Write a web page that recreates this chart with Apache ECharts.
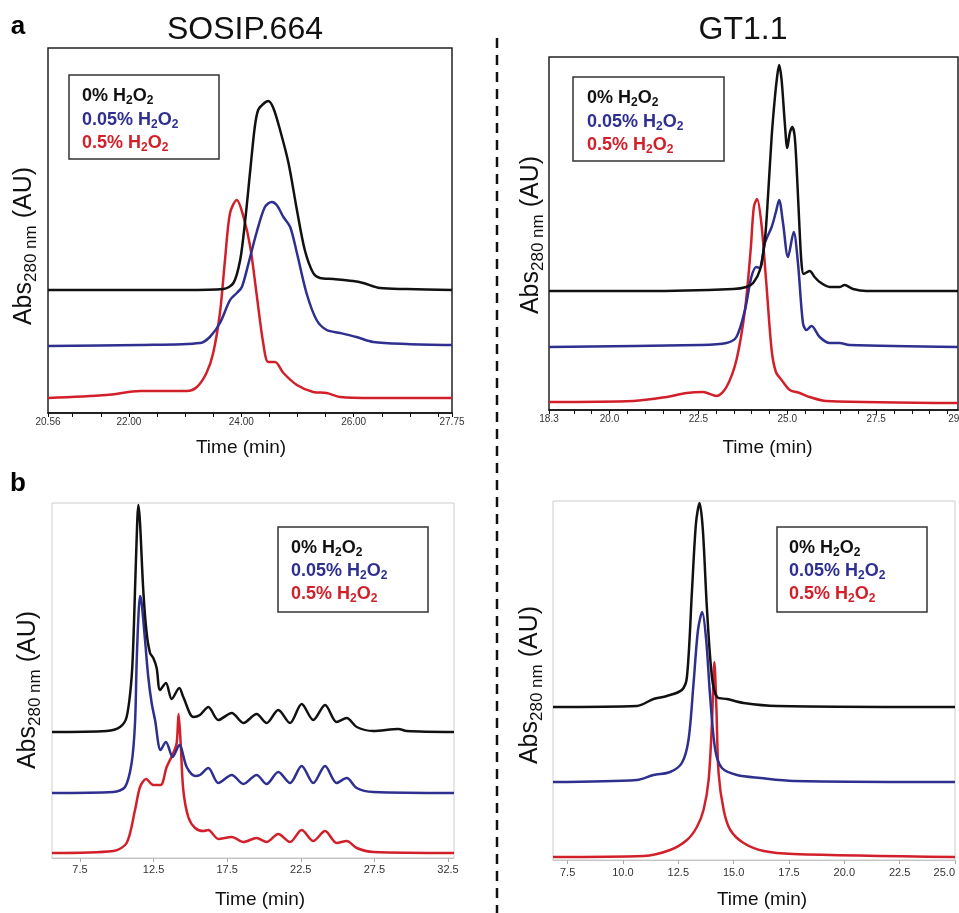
<!DOCTYPE html>
<html><head><meta charset="utf-8">
<script src="https://cdn.jsdelivr.net/npm/echarts@6/dist/echarts.min.js"></script>
<style>html,body{margin:0;padding:0;background:#fff}#c{width:959px;height:913px}</style>
</head><body><div id="c"></div>
<script>
// ---------- Panel a, SOSIP.664 (Time, min / Abs arbitrary units) ----------
const aSosip_t_0 = [20.56, 22.00, 23.00, 23.68, 23.86, 23.98, 24.07, 24.16, 24.24, 24.30, 24.39, 24.48, 24.57, 24.69, 24.84, 24.99, 25.13, 25.28, 25.40, 25.64, 25.99, 26.17, 26.47, 26.94, 27.75];
const aSosip_v_0 = [123, 123, 123, 124, 130, 153, 193, 243, 286, 303, 309, 312, 305, 283, 250, 203, 163, 140, 135, 134, 132, 130, 125, 124, 123];
const aSosip_t_005 = [20.56, 22.20, 23.27, 23.44, 23.62, 23.80, 23.92, 24.01, 24.13, 24.27, 24.42, 24.54, 24.63, 24.75, 24.87, 24.99, 25.16, 25.34, 25.52, 25.76, 26.05, 26.35, 26.94, 27.75];
const aSosip_v_005 = [67, 68, 70, 76, 90, 113, 120, 126, 150, 180, 206, 211, 208, 196, 186, 160, 120, 93, 83, 80, 76, 71, 69, 68];
const aSosip_t_05 = [20.56, 21.60, 22.20, 22.67, 23.03, 23.21, 23.38, 23.50, 23.62, 23.71, 23.80, 23.92, 24.04, 24.16, 24.27, 24.39, 24.48, 24.60, 24.75, 24.99, 25.28, 25.52, 25.76, 26.35, 27.75];
const aSosip_v_05 = [15, 18, 22, 22, 22, 26, 40, 60, 100, 153, 200, 213, 196, 166, 120, 70, 51, 51, 40, 28, 21, 20, 16, 15, 15];

// ---------- Panel a, GT1.1 ----------
const aGT_t_0 = [18.30, 21.00, 23.48, 23.85, 24.04, 24.23, 24.37, 24.46, 24.56, 24.65, 24.72, 24.77, 24.84, 24.93, 25.00, 25.07, 25.14, 25.21, 25.28, 25.35, 25.40, 25.46, 25.63, 25.77, 25.91, 26.19, 26.47, 26.61, 26.85, 27.22, 29.80];
const aGT_v_0 = [119, 119, 121, 123, 127, 140, 170, 215, 273, 312, 335, 345, 330, 287, 262, 277, 283, 273, 230, 177, 147, 136, 139, 133, 128, 123, 123, 125, 121, 119, 119];
const aGT_t_005 = [18.30, 22.54, 23.29, 23.57, 23.81, 23.99, 24.13, 24.23, 24.37, 24.56, 24.68, 24.77, 24.88, 25.02, 25.18, 25.30, 25.44, 25.54, 25.68, 25.91, 26.19, 26.47, 26.75, 29.80];
const aGT_v_005 = [63, 65, 67, 73, 100, 133, 143, 142, 167, 183, 198, 210, 187, 153, 178, 147, 87, 80, 84, 73, 67, 67, 65, 63];
const aGT_t_05 = [18.30, 20.67, 21.61, 22.17, 22.63, 23.01, 23.29, 23.57, 23.81, 23.97, 24.06, 24.15, 24.27, 24.41, 24.56, 24.68, 24.84, 25.07, 25.35, 25.63, 26.10, 29.80];
const aGT_v_05 = [8, 9, 13, 17, 18, 14, 23, 50, 100, 160, 203, 211, 187, 127, 60, 38, 30, 20, 17, 13, 9, 7];

// ---------- Panel b, SOSIP.664 ----------
const bSosip_t_0 = [5.60, 9.31, 10.22, 10.67, 11.01, 11.17, 11.31, 11.47, 11.58, 11.80, 12.03, 12.26, 12.48, 12.71, 12.94, 13.34, 13.73, 14.25, 14.52, 15.20, 15.65, 16.22, 16.90, 17.81, 18.60, 19.50, 20.18, 20.97, 21.77, 22.56, 23.35, 24.15, 24.94, 25.62, 26.30, 27.43, 29.13, 29.70, 32.91];
const bSosip_v_0 = [126, 127, 131, 141, 181, 235, 301, 353, 335, 268, 225, 205, 200, 190, 168, 175, 159, 170, 161, 141, 143, 151, 138, 145, 135, 144, 135, 148, 135, 154, 138, 153, 136, 140, 131, 127, 129, 127, 126];
const bSosip_t_005 = [5.60, 9.77, 10.56, 11.01, 11.24, 11.35, 11.47, 11.58, 11.69, 11.92, 12.14, 12.37, 12.60, 12.98, 13.34, 13.80, 14.25, 14.75, 15.32, 15.65, 16.22, 16.90, 17.81, 18.60, 19.50, 20.18, 20.97, 21.77, 22.56, 23.35, 24.15, 24.94, 25.62, 26.30, 27.43, 32.91];
const bSosip_v_005 = [65, 66, 71, 95, 135, 195, 241, 262, 255, 218, 181, 155, 138, 108, 116, 101, 113, 91, 82, 83, 90, 75, 83, 74, 83, 74, 86, 75, 92, 75, 92, 75, 80, 70, 66, 65];
const bSosip_t_05 = [5.60, 9.77, 10.67, 11.24, 11.58, 11.99, 12.48, 12.98, 13.39, 13.84, 14.07, 14.20, 14.34, 14.52, 14.86, 15.32, 15.88, 16.22, 16.90, 17.81, 18.60, 19.50, 20.18, 20.97, 21.77, 22.56, 23.35, 24.15, 24.94, 25.62, 26.30, 27.43, 32.91];
const bSosip_v_05 = [5, 7, 15, 48, 71, 79, 73, 73, 91, 105, 115, 144, 115, 68, 41, 30, 27, 28, 19, 21, 16, 20, 16, 24, 16, 28, 17, 27, 15, 17, 10, 6, 5];

// ---------- Panel b, GT1.1 ----------
const bGT_t_0 = [6.84, 10.63, 11.38, 11.98, 12.66, 12.89, 13.12, 13.30, 13.46, 13.61, 13.79, 14.02, 14.25, 14.70, 15.45, 16.96, 25.00];
const bGT_v_0 = [153, 154, 161, 164, 170, 183, 270, 337, 357, 330, 253, 183, 163, 161, 157, 154, 153];
const bGT_t_005 = [6.84, 10.63, 11.38, 12.13, 12.66, 12.96, 13.19, 13.39, 13.58, 13.76, 13.94, 14.17, 14.47, 15.15, 16.21, 17.71, 25.00];
const bGT_v_005 = [78, 80, 85, 88, 97, 120, 177, 230, 248, 220, 163, 110, 92, 85, 82, 79, 78];
const bGT_t_05 = [6.84, 10.93, 12.13, 12.89, 13.34, 13.64, 13.87, 14.02, 14.13, 14.22, 14.32, 14.55, 14.85, 15.45, 16.36, 17.71, 25.00];
const bGT_v_05 = [3, 4, 10, 20, 33, 50, 80, 137, 198, 153, 87, 50, 30, 17, 9, 6, 3];

// ---------- Axis tick labels ----------
const aSosip_labels = [20.56, 22.00, 24.00, 26.00, 27.75];
const aSosip_ticks = [20.56, 21.0, 21.5, 22.0, 22.5, 23.0, 23.5, 24.0, 24.5, 25.0, 25.5, 26.0, 26.5, 27.0, 27.5, 27.75];
const aGT_labels = [18.3, 20.0, 22.5, 25.0, 27.5, 29.8];
const aGT_ticks = [18.3, 19.0, 19.5, 20.0, 20.5, 21.0, 21.5, 22.0, 22.5, 23.0, 23.5, 24.0, 24.5, 25.0, 25.5, 26.0, 26.5, 27.0, 27.5, 28.0, 28.5, 29.0, 29.5];
const bSosip_labels = [7.5, 12.5, 17.5, 22.5, 27.5, 32.5];
const bGT_labels = [7.5, 10.0, 12.5, 15.0, 17.5, 20.0, 22.5, 25.0];

const seriesNames = ['0% H2O2', '0.05% H2O2', '0.5% H2O2'];
const legendRich = ['{b|0% H}{s|2}{b|O}{s|2}', '{b|0.05% H}{s|2}{b|O}{s|2}', '{b|0.5% H}{s|2}{b|O}{s|2}'];
const colors = ['#111111', '#2e2f8f', '#d1202a'];

const FONT = 'Liberation Sans, Arial, sans-serif';
const pairs = (t, v) => t.map((x, i) => [x, v[i]]);

const panels = [
  {grid: {left: 48, top: 48, width: 404, height: 365}, dark: true, min: 20.56, max: 27.75, ymax: 365,
   labels: aSosip_labels, ticks: aSosip_ticks, dec: 2, fs: 10, margin: 4, gap: 25, pad: [0, 18, 0, 0], alignMax: null,
   data: [[aSosip_t_0, aSosip_v_0], [aSosip_t_005, aSosip_v_005], [aSosip_t_05, aSosip_v_05]]},
  {grid: {left: 549, top: 57, width: 409, height: 353}, dark: true, min: 18.3, max: 29.8, ymax: 353,
   labels: aGT_labels, ticks: aGT_ticks, dec: 1, fs: 10, margin: 4, gap: 28, pad: [0, 0, 0, 28], alignMax: null,
   data: [[aGT_t_0, aGT_v_0], [aGT_t_005, aGT_v_005], [aGT_t_05, aGT_v_05]]},
  {grid: {left: 52, top: 503, width: 402, height: 355}, dark: false, min: 5.6, max: 32.91, ymax: 355,
   labels: bSosip_labels, ticks: bSosip_labels, dec: 1, fs: 11, margin: 6, gap: 32, pad: [0, 0, 0, 14], alignMax: null,
   data: [[bSosip_t_0, bSosip_v_0], [bSosip_t_005, bSosip_v_005], [bSosip_t_05, bSosip_v_05]]},
  {grid: {left: 553, top: 501, width: 402, height: 359}, dark: false, min: 6.84, max: 25.0, ymax: 359,
   labels: bGT_labels, ticks: bGT_labels, dec: 1, fs: 11, margin: 7, gap: 30, pad: [0, 0, 0, 16], alignMax: 'right',
   data: [[bGT_t_0, bGT_v_0], [bGT_t_005, bGT_v_005], [bGT_t_05, bGT_v_05]]}
];

const grids = [], xAxes = [], yAxes = [], series = [];
panels.forEach((p, i) => {
  grids.push(Object.assign({}, p.grid, {
    show: true, backgroundColor: 'transparent',
    borderColor: p.dark ? '#222' : '#cdcdcd', borderWidth: p.dark ? 1.5 : 1,
    containLabel: false, outerBoundsMode: 'none'
  }));
  const label = {customValues: p.labels, formatter: v => Number(v).toFixed(p.dec),
      fontSize: p.fs, color: '#333', margin: p.margin, fontFamily: FONT};
  if (p.alignMax) label.alignMaxLabel = p.alignMax;
  xAxes.push({
    gridIndex: i, type: 'value', min: p.min, max: p.max,
    axisLine: {show: true, lineStyle: {color: p.dark ? '#111' : '#c4c4c4', width: p.dark ? 1.5 : 1}},
    axisTick: {show: true, customValues: p.ticks, length: 4, lineStyle: {color: p.dark ? '#111' : '#aaa', width: 1}},
    axisLabel: label,
    splitLine: {show: false},
    name: 'Time (min)', nameLocation: 'middle', nameGap: p.gap,
    nameTextStyle: {fontSize: 19, color: '#111', fontFamily: FONT, padding: p.pad}
  });
  yAxes.push({gridIndex: i, type: 'value', min: 0, max: p.ymax, show: false});
  p.data.forEach((d, k) => {
    series.push({
      type: 'line', name: seriesNames[k], xAxisIndex: i, yAxisIndex: i,
      data: pairs(d[0], d[1]), showSymbol: false, smooth: 0.3,
      lineStyle: {color: colors[k], width: 2.5, join: 'round'}, itemStyle: {color: colors[k]},
      z: 10 - k, animation: false
    });
  });
});

const graphic = [];
// titles and panel letters
graphic.push({type: 'text', x: 245, y: 30, style: {text: 'SOSIP.664', font: '32px ' + FONT, fill: '#111', align: 'center', verticalAlign: 'middle'}});
graphic.push({type: 'text', x: 743, y: 30, style: {text: 'GT1.1', font: '32px ' + FONT, fill: '#111', align: 'center', verticalAlign: 'middle'}});
graphic.push({type: 'text', x: 18, y: 27, style: {text: 'a', font: 'bold 26px ' + FONT, fill: '#000', align: 'center', verticalAlign: 'middle'}});
graphic.push({type: 'text', x: 18, y: 484, style: {text: 'b', font: 'bold 26px ' + FONT, fill: '#000', align: 'center', verticalAlign: 'middle'}});
// dashed divider
graphic.push({type: 'line', shape: {x1: 497, y1: 38, x2: 497, y2: 913}, style: {stroke: '#111', lineWidth: 2.5, lineDash: [10, 7]}});

// legends
const legendBoxes = [
  {x: 69, y: 75, w: 150, h: 84, tx: 82, ty: [96, 120, 143]},
  {x: 573, y: 77, w: 151, h: 84, tx: 587, ty: [98, 122, 145]},
  {x: 278, y: 527, w: 150, h: 85, tx: 291, ty: [548, 571, 594]},
  {x: 777, y: 527, w: 150, h: 85, tx: 789, ty: [548, 571, 594]}
];
legendBoxes.forEach(L => {
  graphic.push({type: 'rect', shape: {x: L.x, y: L.y, width: L.w, height: L.h}, style: {fill: '#fff', stroke: '#333', lineWidth: 1.5}, z: 100});
  legendRich.forEach((txt, k) => {
    graphic.push({type: 'text', x: L.tx, y: L.ty[k], z: 101, style: {
      text: txt, fill: colors[k], align: 'left', verticalAlign: 'middle',
      rich: {
        b: {fontSize: 18, fontWeight: 'bold', fontFamily: FONT, lineHeight: 22, fill: colors[k]},
        s: {fontSize: 12, fontWeight: 'bold', fontFamily: FONT, lineHeight: 9, verticalAlign: 'bottom', fill: colors[k]}
      }
    }});
  });
});

// y-axis labels
const yLabelPos = [[24, 246], [531, 235], [28, 690], [530, 685]];
yLabelPos.forEach(pt => {
  graphic.push({type: 'text', x: pt[0], y: pt[1], rotation: Math.PI / 2, style: {
    text: '{a|Abs}{s|280 nm}{a| (AU)}', fill: '#111', align: 'center', verticalAlign: 'middle',
    rich: {
      a: {fontSize: 25, fontFamily: FONT, lineHeight: 32, fill: '#111'},
      s: {fontSize: 17, fontFamily: FONT, lineHeight: 12, verticalAlign: 'bottom', fill: '#111'}
    }
  }});
});

const chart = echarts.init(document.getElementById('c'), null, {renderer: 'canvas'});
chart.setOption({
  animation: false,
  backgroundColor: '#ffffff',
  textStyle: {fontFamily: FONT},
  grid: grids, xAxis: xAxes, yAxis: yAxes, series: series, graphic: graphic
});
</script></body></html>
